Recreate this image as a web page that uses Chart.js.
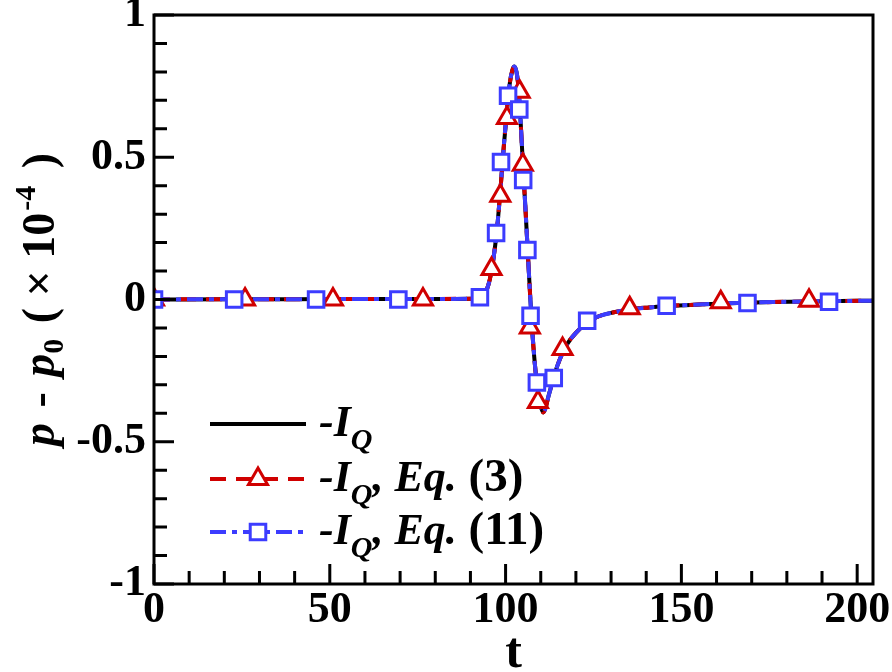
<!DOCTYPE html>
<html>
<head>
<meta charset="utf-8">
<script src="https://cdn.jsdelivr.net/npm/chart.js@4.4.1/dist/chart.umd.min.js"></script>
<style>
    html, body { margin: 0; padding: 0; background: #fff; }
</style>
</head>
<body>
<canvas id="chart" width="892" height="672"></canvas>
<script>
// -I_Q curve (the three lines sit on top of each other)
const tCurve = [0, 20, 40, 60, 80, 90.4, 92.5, 93.5, 94.5, 95.5, 96.5, 97.5, 98.5, 99.5, 100.5,
    101.2, 101.9, 102.5, 103.1, 103.7, 104.3, 104.9, 105.6, 106.3, 107.0, 107.7, 108.5, 109.3,
    110.0, 110.7, 111.4, 112.2, 113.1, 114.0, 115.6, 117.6, 120.2, 123.2, 126.7, 130.8, 135.8,
    140.8, 145.9, 156, 166, 176, 191, 204.5];
const pCurve = [0, 0.001, 0.001, 0.002, 0.002, 0.003, 0.005, 0.01, 0.03, 0.07, 0.14, 0.24, 0.38,
    0.54, 0.68, 0.76, 0.805, 0.819, 0.80, 0.74, 0.62, 0.48, 0.33, 0.17, 0.01, -0.13, -0.25, -0.33,
    -0.375, -0.397, -0.38, -0.34, -0.30, -0.26, -0.205, -0.155, -0.115, -0.08, -0.058, -0.045,
    -0.034, -0.028, -0.023, -0.017, -0.012, -0.009, -0.006, -0.004];

// -I_Q, Eq. (3) symbols
const tEq3 = [0, 25.9, 50.9, 76.5, 96.0, 98.5, 100.4, 104.0, 104.9, 106.9, 109.2, 116.2, 135.3, 161.2, 186.3];
const pEq3 = [0, 0, 0, 0, 0.107, 0.365, 0.638, 0.73, 0.474, -0.098, -0.36, -0.174, -0.031, -0.01, -0.004];

// -I_Q, Eq. (11) symbols
const tEq11 = [0, 22.8, 46.1, 69.5, 92.7, 97.3, 98.7, 100.7, 103.9, 105.0, 106.2, 107.1, 108.9,
    113.7, 123.2, 145.8, 168.8, 192.0];
const pEq11 = [0, 0, 0, 0, 0.008, 0.234, 0.483, 0.716, 0.668, 0.42, 0.174, -0.057, -0.292,
    -0.276, -0.075, -0.022, -0.012, -0.008];

const xTicks = [0, 50, 100, 150, 200];
const yTicks = [-1, -0.5, 0, 0.5, 1];
const xMinor = [10, 20, 30, 40, 60, 70, 80, 90, 110, 120, 130, 140, 160, 170, 180, 190];
const yMinor = [-0.9, -0.8, -0.7, -0.6, -0.4, -0.3, -0.2, -0.1, 0.1, 0.2, 0.3, 0.4, 0.6, 0.7, 0.8, 0.9];

const RED = '#d00000';
const BLUE = '#3c3cff';
const SERIF = '"Liberation Serif", "Times New Roman", serif';

function toPoints(xs, ys) {
    return xs.map((x, i) => ({ x, y: ys[i] }));
}

function drawRich(ctx, segs, x, y, centered) {
    const font = (s) => `${s.italic ? 'italic ' : ''}bold ${s.size}px ${SERIF}`;
    let w = 0;
    segs.forEach((s) => { ctx.font = font(s); w += ctx.measureText(s.text).width + (s.gap || 0); });
    let cx = centered ? x - w / 2 : x;
    segs.forEach((s) => {
        ctx.font = font(s);
        ctx.fillText(s.text, cx, y + (s.dy || 0));
        cx += ctx.measureText(s.text).width + (s.gap || 0);
    });
}

function drawMarker(ctx, style, x, y, r, color) {
    ctx.save();
    ctx.strokeStyle = color;
    ctx.fillStyle = '#fff';
    ctx.lineWidth = 3;
    ctx.setLineDash([]);
    ctx.beginPath();
    if (style === 'rect') {
        const s = r * Math.SQRT1_2;
        ctx.rect(x - s, y - s, 2 * s, 2 * s);
    } else {
        ctx.moveTo(x, y - r);
        ctx.lineTo(x + r * Math.sin(Math.PI / 3), y + r / 2);
        ctx.lineTo(x - r * Math.sin(Math.PI / 3), y + r / 2);
        ctx.closePath();
    }
    ctx.fill();
    ctx.stroke();
    ctx.restore();
}

const frame = {
    id: 'frame',
    afterDraw(chart) {
        const { ctx, chartArea: a, scales } = chart;
        const xs = scales.x;
        const ys = scales.y;
        ctx.save();
        ctx.strokeStyle = '#000';
        ctx.lineWidth = 3;
        ctx.strokeRect(a.left, a.top, a.right - a.left, a.bottom - a.top);

        ctx.beginPath();
        xTicks.forEach((v) => { const px = xs.getPixelForValue(v); ctx.moveTo(px, a.bottom); ctx.lineTo(px, a.bottom - 20); });
        xMinor.forEach((v) => { const px = xs.getPixelForValue(v); ctx.moveTo(px, a.bottom); ctx.lineTo(px, a.bottom - 13); });
        yTicks.forEach((v) => { const py = ys.getPixelForValue(v); ctx.moveTo(a.left, py); ctx.lineTo(a.left + 20, py); });
        yMinor.forEach((v) => { const py = ys.getPixelForValue(v); ctx.moveTo(a.left, py); ctx.lineTo(a.left + 13, py); });
        ctx.stroke();

        // axis titles
        ctx.fillStyle = '#000';
        ctx.textBaseline = 'alphabetic';
        ctx.textAlign = 'left';
        drawRich(ctx, [{ text: 't', size: 50 }], (a.left + a.right) / 2, 667, true);

        ctx.save();
        ctx.translate(54, (a.top + a.bottom) / 2);
        ctx.rotate(-Math.PI / 2);
        drawRich(ctx, [
            { text: 'p', size: 46, italic: true, gap: 4 },
            { text: ' - ', size: 46, gap: 4 },
            { text: 'p', size: 46, italic: true },
            { text: '0', size: 30, dy: 9, gap: 4 },
            { text: ' ( \u00d7 10', size: 46, gap: 2 },
            { text: '-4', size: 30, dy: -19, gap: 6 },
            { text: ' )', size: 46 },
        ], 0, 0, true);
        ctx.restore();

        // legend
        const rows = [
            { y: 424, color: '#000', dash: [], marker: null, eq: '' },
            { y: 479, color: RED, dash: [16, 10], marker: 'triangle', eq: ' (3)' },
            { y: 532, color: BLUE, dash: [16, 6, 5, 6], marker: 'rect', eq: ' (11)' },
        ];
        rows.forEach((r) => {
            ctx.save();
            ctx.strokeStyle = r.color;
            ctx.lineWidth = 4;
            ctx.setLineDash(r.dash);
            ctx.beginPath();
            ctx.moveTo(210, r.y);
            ctx.lineTo(306, r.y);
            ctx.stroke();
            ctx.restore();
            if (r.marker) drawMarker(ctx, r.marker, 258, r.y, 11, r.color);
            const segs = [
                { text: '-I', size: 44, italic: true },
                { text: 'Q', size: 30, italic: true, dy: 13 },
            ];
            if (r.eq) {
                segs.push({ text: ', Eq.', size: 44, italic: true });
                segs.push({ text: r.eq, size: 47 });
            }
            drawRich(ctx, segs, 319, r.y + 12, false);
        });
        ctx.restore();
    },
};

const fitTo = (size) => (scale) => {
    if (scale.isHorizontal()) scale.height = size; else scale.width = size;
    scale.paddingLeft = 0;
    scale.paddingRight = 0;
    scale.paddingTop = 0;
    scale.paddingBottom = 0;
};

const tickFont = { family: SERIF, size: 44, weight: 'bold' };

new Chart(document.querySelector('#chart'), {
    type: 'scatter',
    data: {
        datasets: [
            {
                data: toPoints(tEq11, pEq11),
                pointStyle: 'rect', pointRadius: 11, pointBorderWidth: 3,
                pointBorderColor: BLUE, pointBackgroundColor: '#fff', showLine: false,
            },
            {
                data: toPoints(tEq3, pEq3),
                pointStyle: 'triangle', pointRadius: 11, pointBorderWidth: 3,
                pointBorderColor: RED, pointBackgroundColor: '#fff', showLine: false,
            },
            {
                data: toPoints(tCurve, pCurve), showLine: true, pointRadius: 0,
                borderColor: BLUE, borderWidth: 4, borderDash: [16, 6, 5, 6],
                cubicInterpolationMode: 'monotone',
            },
            {
                data: toPoints(tCurve, pCurve), showLine: true, pointRadius: 0,
                borderColor: RED, borderWidth: 4, borderDash: [16, 10],
                cubicInterpolationMode: 'monotone',
            },
            {
                data: toPoints(tCurve, pCurve), showLine: true, pointRadius: 0,
                borderColor: '#000', borderWidth: 4,
                cubicInterpolationMode: 'monotone',
            },
        ],
    },
    options: {
        responsive: false,
        animation: false,
        layout: { padding: { top: 15, right: 19, bottom: 0, left: 0 } },
        plugins: { legend: { display: false }, tooltip: { enabled: false } },
        scales: {
            x: {
                type: 'linear', min: 0, max: 204.5,
                afterBuildTicks: (s) => { s.ticks = xTicks.map((value) => ({ value })); },
                afterFit: fitTo(88),
                grid: { display: false, drawTicks: false },
                border: { display: false },
                ticks: { font: tickFont, color: '#000', padding: 0, maxRotation: 0, autoSkip: false },
            },
            y: {
                type: 'linear', min: -1, max: 1,
                afterBuildTicks: (s) => { s.ticks = yTicks.map((value) => ({ value })); },
                afterFit: fitTo(154),
                grid: { display: false, drawTicks: false },
                border: { display: false },
                ticks: {
                    font: tickFont, color: '#000', padding: 8, autoSkip: false,
                    callback: (v) => (v < 0 ? '-' + Math.abs(v) : String(v)),
                },
            },
        },
    },
    plugins: [frame],
});
</script>
</body>
</html>
